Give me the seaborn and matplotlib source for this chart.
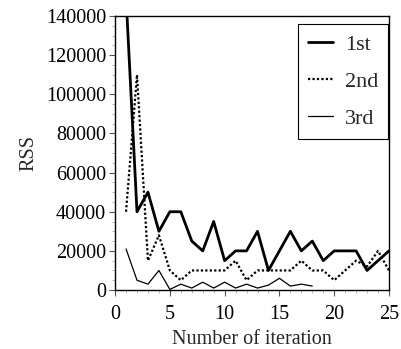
import numpy as np
import pandas as pd
import matplotlib
matplotlib.use("Agg")
import matplotlib.pyplot as plt
import seaborn as sns
from matplotlib.ticker import MultipleLocator

# RSS per iteration
iter_1st = list(range(1, 26))
rss_1st = [150000, 40000, 50000, 30000, 40000, 40000, 25000, 20000, 35000, 15000,
           20000, 20000, 30000, 10000, 20000, 30000, 20000, 25000, 15000, 20000,
           20000, 20000, 10000, 15000, 20000]

iter_2nd = list(range(1, 26))
rss_2nd = [40000, 110000, 15000, 28000, 10000, 5000, 10000, 10000, 10000, 10000,
           15000, 5000, 10000, 10000, 10000, 10000, 15000, 10000, 10000, 5000,
           10000, 15000, 12000, 20000, 10000]

iter_3rd = list(range(1, 19))
rss_3rd = [21000, 5000, 3000, 10000, 300, 3000, 1000, 4000, 1000, 4000,
           1000, 3000, 1000, 2500, 6000, 2000, 3000, 2000]

sns.set_style("ticks")
plt.rcParams['font.family'] = ['Liberation Serif', 'DejaVu Serif']

fig = plt.figure(figsize=(4.01, 3.49), dpi=100)
ax = fig.add_axes([0.287, 0.169, 0.683, 0.785])

sns.lineplot(x=iter_1st, y=rss_1st, ax=ax, color='black', linewidth=2.0,
             linestyle='-', label='1st')
sns.lineplot(x=iter_2nd, y=rss_2nd, ax=ax, color='black', linewidth=1.6,
             linestyle=(0, (1, 1)), label='2nd')
sns.lineplot(x=iter_3rd, y=rss_3rd, ax=ax, color='black', linewidth=0.9,
             linestyle='-', label='3rd')

ax.set_xlim(0, 25)
ax.set_ylim(0, 140000)
ax.xaxis.set_major_locator(MultipleLocator(5))
ax.xaxis.set_minor_locator(MultipleLocator(1))
ax.yaxis.set_major_locator(MultipleLocator(20000))
ax.yaxis.set_minor_locator(MultipleLocator(5000))

for s in ax.spines.values():
    s.set_visible(True)
    s.set_color('black')
    s.set_linewidth(1.0)

ax.tick_params(which='major', direction='out', length=4.3, width=0.8,
               color='#555555', labelsize=14.5, labelcolor='black')
ax.tick_params(which='minor', direction='out', length=2, width=0.6,
               color='#aaaaaa')
ax.tick_params(axis='x', which='major', pad=6.5)
ax.tick_params(axis='y', which='major', pad=2.2)

ax.set_xlabel('Number of iteration', fontsize=14.5, labelpad=4)
ax.set_ylabel('RSS', fontsize=14.5, labelpad=5)

leg = ax.legend(loc='upper right', fontsize=16, frameon=True, fancybox=False,
                handlelength=1.12, handletextpad=0.54, labelspacing=0.75,
                borderpad=0.45, borderaxespad=0, bbox_to_anchor=(0.996, 0.971))
leg.get_frame().set_edgecolor('black')
leg.get_frame().set_linewidth(0.8)
leg.get_frame().set_alpha(1)

fig.savefig('out.png', dpi=100)
plt.close(fig)
